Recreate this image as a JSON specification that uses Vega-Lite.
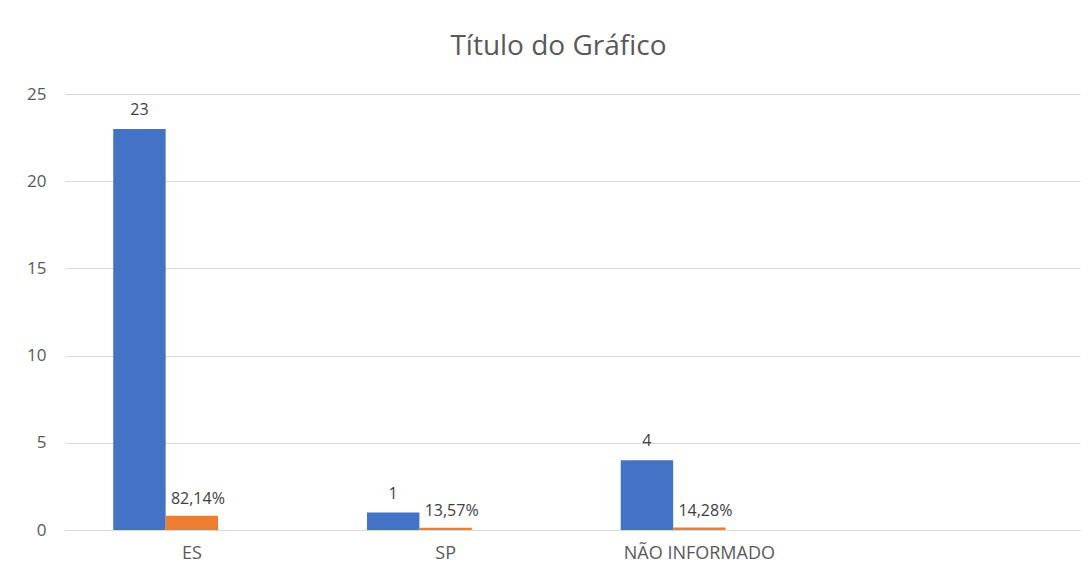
{
  "$schema": "https://vega.github.io/schema/vega-lite/v6.json",
  "width": 1015,
  "height": 436,
  "autosize": {"type": "none"},
  "padding": {"left": 65, "top": 94, "right": 12, "bottom": 43},
  "background": "white",
  "title": {
    "text": "Título do Gráfico",
    "anchor": "middle",
    "frame": "group",
    "fontSize": 28,
    "font": "Open Sans",
    "fontWeight": "normal",
    "color": "#595959",
    "baseline": "alphabetic",
    "dx": -14,
    "offset": 2
  },
  "config": {
    "view": {"stroke": null},
    "font": "Open Sans",
    "axis": {"labelColor": "#595959", "labelFontSize": 17, "labelFont": "Open Sans"}
  },
  "data": {
    "values": [
      {"cat": "ES", "serie": "A", "value": 23, "label": "23"},
      {"cat": "ES", "serie": "B", "value": 0.8214, "label": "82,14%"},
      {"cat": "SP", "serie": "A", "value": 1, "label": "1"},
      {"cat": "SP", "serie": "B", "value": 0.1357, "label": "13,57%"},
      {"cat": "NÃO INFORMADO", "serie": "A", "value": 4, "label": "4"},
      {"cat": "NÃO INFORMADO", "serie": "B", "value": 0.1428, "label": "14,28%"}
    ]
  },
  "encoding": {
    "x": {
      "field": "cat",
      "type": "nominal",
      "scale": {"domain": ["ES", "SP", "NÃO INFORMADO", " "], "paddingInner": 0.38, "paddingOuter": 0.19},
      "sort": null,
      "axis": {
        "title": null,
        "labelAngle": 0,
        "labelFontSize": 18,
        "ticks": false,
        "domain": true,
        "domainColor": "#d9d9d9",
        "domainWidth": 1,
        "labelPadding": 14,
        "grid": false
      }
    },
    "xOffset": {
      "field": "serie",
      "type": "nominal",
      "scale": {"domain": ["A", "B", "C"], "paddingInner": 0, "paddingOuter": 0}
    },
    "y": {
      "field": "value",
      "type": "quantitative",
      "scale": {"domain": [0, 25], "nice": false},
      "axis": {
        "title": null,
        "values": [0, 5, 10, 15, 20, 25],
        "domain": false,
        "ticks": false,
        "grid": true,
        "gridColor": "#d9d9d9",
        "gridWidth": 1,
        "labelPadding": 19
      }
    }
  },
  "layer": [
    {
      "mark": {"type": "bar"},
      "encoding": {
        "color": {
          "field": "serie",
          "type": "nominal",
          "scale": {"domain": ["A", "B", "C"], "range": ["#4472C4", "#ED7D31", "#A5A5A5"]},
          "legend": null
        }
      }
    },
    {
      "transform": [{"filter": "datum.serie === 'A'"}],
      "mark": {"type": "text", "baseline": "alphabetic", "dy": -14, "fontSize": 16, "color": "#404040", "font": "Open Sans"},
      "encoding": {"text": {"field": "label"}}
    },
    {
      "transform": [{"filter": "datum.serie === 'B'"}],
      "mark": {"type": "text", "baseline": "alphabetic", "dy": -12, "dx": 6, "fontSize": 16, "color": "#404040", "font": "Open Sans"},
      "encoding": {"text": {"field": "label"}}
    }
  ]
}
